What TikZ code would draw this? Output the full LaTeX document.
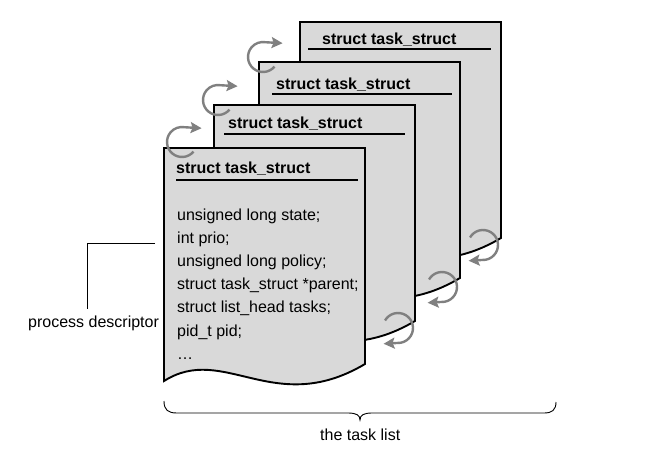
\documentclass[tikz,border=0pt]{standalone}
\usepackage{fontspec}
\setmainfont{Liberation Sans}
\usetikzlibrary{arrows.meta}
\newcommand\docpage[2]{%
  \begin{scope}[shift={(#1,#2)}]
    \path[pagebox] (0,0) -- (201,0) -- (201,216)
      .. controls (110,270) and (60,195) .. (0,233) -- cycle;
  \end{scope}}
\begin{document}
\begin{tikzpicture}[x=1pt,y=-1pt,
  pagebox/.style={fill=black!15,draw=black,line width=1.9pt,line join=miter},
  titletext/.style={anchor=base west,inner sep=0pt,font=\fontsize{16}{19}\selectfont\bfseries},
  bodytext/.style={anchor=base west,inner sep=0pt,font=\fontsize{16}{19}\selectfont},
  uline/.style={line width=2.6pt},
  thinline/.style={line width=0.9pt},
  cyc/.style={draw=black!50,line width=2.4pt,-{Stealth[length=11pt,width=11pt,inset=2pt]}},
  ]
\useasboundingbox (0,0) rectangle (660,454);

% pages, back to front
\docpage{300}{22}
\node[titletext] (t4) at (322,45) {struct task\_struct};
\draw[uline] (308,49) -- (491,49);

\docpage{259}{62}
\node[titletext] (t3) at (276,90) {struct task\_struct};
\draw[uline] (272,94) -- (452,94);

\docpage{214}{105}
\node[titletext] (t2) at (228,129) {struct task\_struct};
\draw[uline] (224,134) -- (405,134);

\docpage{164}{148}
\node[titletext] (t1) at (176,174) {struct task\_struct};
\draw[uline] (176,180) -- (358,180);

\node[bodytext] (l1) at (177,220.0) {unsigned long state;};
\node[bodytext] (l2) at (177,243.2) {int prio;};
\node[bodytext] (l3) at (177,266.4) {unsigned long policy;};
\node[bodytext] (l4) at (177,289.6) {struct task\_struct *parent;};
\node[bodytext] (l5) at (177,312.8) {struct list\_head tasks;};
\node[bodytext] (l6) at (177,336.0) {pid\_t pid;};
\node[bodytext] (l7) at (177,359.2) {…};

% cycle arrows, top left
\draw[cyc] (182,142) ++(40:15) arc[start angle=40,end angle=280,radius=15] -- ++(17,1);
\draw[cyc] (218,100) ++(40:15) arc[start angle=40,end angle=280,radius=15] -- ++(17,1);
\draw[cyc] (263,57) ++(40:15) arc[start angle=40,end angle=280,radius=15] -- ++(17,1);

% cycle arrows, bottom right
\draw[cyc] (483,245) ++(210:15) arc[start angle=210,end angle=440,radius=15] -- ++(-17,1);
\draw[cyc] (442,287) ++(210:15) arc[start angle=210,end angle=440,radius=15] -- ++(-17,1);
\draw[cyc] (398,328) ++(210:15) arc[start angle=210,end angle=440,radius=15] -- ++(-17,1);

% process descriptor label
\node[bodytext] (desc) at (28,327) {process descriptor};
\coordinate (pd) at (155,243);
\draw[thinline] (pd) -| ([xshift=-6pt,yshift=6pt]desc.north);

% brace and label
\draw[thinline] (164,401) .. controls (164,410) and (168,413) .. (177,413) -- (348,413)
  .. controls (356,413) and (360,415) .. (360,420)
  .. controls (360,415) and (364,413) .. (372,413) -- (544,413)
  .. controls (552,413) and (556,410) .. (556,402);
\node[bodytext] (tl) at (320,440) {the task list};
\end{tikzpicture}
\end{document}
